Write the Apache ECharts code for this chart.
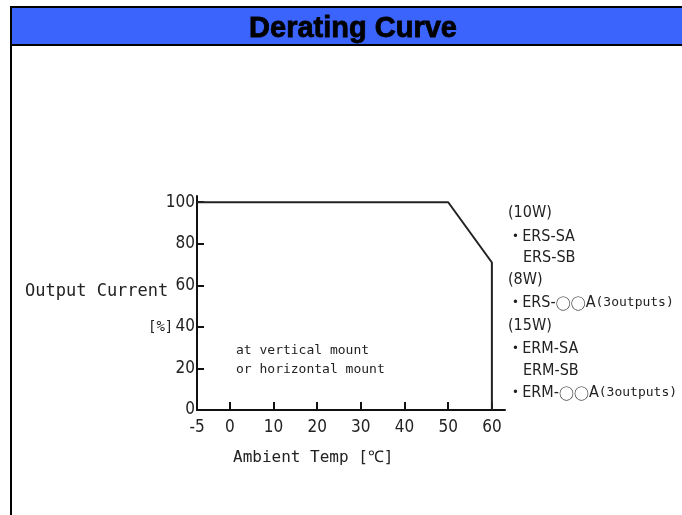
<!DOCTYPE html>
<html>
<head>
<meta charset="utf-8">
<script src="https://cdn.jsdelivr.net/npm/echarts@6/dist/echarts.min.js"></script>
<style>
html,body{margin:0;padding:0;background:#fff;}
#chart{width:682px;height:515px;}
</style>
</head>
<body>
<div id="chart"></div>
<script>
// ---- data ----
var titleText = 'Derating Curve';
var curveTemps = [-7.5, 50, 60, 60];      // ambient temperature (axis origin, knee, end, end)
var curveCurrent = [100, 100, 71, 0];      // output current [%]
var xTickValues = [0, 10, 20, 30, 40, 50, 60];
var xLabelValues = [-7.5, 0, 10, 20, 30, 40, 50, 60];
var xLabelTexts = ['-5', '0', '10', '20', '30', '40', '50', '60'];
var yTickValues = [20, 40, 60, 80, 100];
var yLabelValues = [0, 20, 40, 60, 80, 100];
var yAxisName = ['Output Current', '[%]'];
var xAxisName = 'Ambient Temp [℃]';
var noteLines = ['at vertical mount', 'or horizontal mount'];
var modelLines = [
  {t: '(10W)'},
  {b: true, t: 'ERS-SA'},
  {t: 'ERS-SB'},
  {t: '(8W)'},
  {b: true, t: 'ERS-', c: '○○', e: 'A', m: '(3outputs)'},
  {t: '(15W)'},
  {b: true, t: 'ERM-SA'},
  {t: 'ERM-SB'},
  {b: true, t: 'ERM-', c: '○○', e: 'A', m: '(3outputs)'}
];

var chart = echarts.init(document.getElementById('chart'), null, {renderer: 'canvas'});

var sans = '"DejaVu Sans Condensed", "Liberation Sans", Arial, sans-serif';
var mono = '"DejaVu Sans Mono", monospace';

var graphics = [
  {type: 'rect', shape: {x: 10, y: 6, width: 680, height: 40}, style: {fill: '#000'}, z: 1},
  {type: 'rect', shape: {x: 12, y: 8, width: 680, height: 36}, style: {fill: '#3b64fd'}, z: 2},
  {type: 'rect', shape: {x: 10, y: 6, width: 2, height: 520}, style: {fill: '#000'}, z: 2},
  {type: 'text', x: 353, y: 14, z: 3,
   style: {text: titleText, font: 'bold 29px "Liberation Sans", Arial, sans-serif', fill: '#000',
           stroke: '#000', lineWidth: 0.8, textAlign: 'center'}},
  {type: 'text', x: 25, y: 283, style: {text: yAxisName[0], font: '17px ' + mono, fill: '#222'}},
  {type: 'text', x: 148, y: 320, style: {text: yAxisName[1], font: '14px ' + mono, fill: '#222'}},
  {type: 'text', x: 233, y: 450, style: {text: xAxisName, font: '16px ' + mono, fill: '#222'}},
  {type: 'text', x: 236, y: 344, style: {text: noteLines[0], font: '13px ' + mono, fill: '#222'}},
  {type: 'text', x: 236, y: 363, style: {text: noteLines[1], font: '13px ' + mono, fill: '#222'}}
];

var lineYs = [205, 229, 250, 272, 295, 318, 341, 363, 385];
modelLines.forEach(function (ln, i) {
  var txt = (ln.b ? '{d|•} ' : '') + '{s|' + ln.t + '}' +
    (ln.c ? '{c|' + ln.c + '}{s|' + ln.e + '}' : '') +
    (ln.m ? '{m|' + ln.m + '}' : '');
  var x = ln.t.indexOf('(') === 0 ? 508 : (ln.b ? 512 : 523);
  graphics.push({
    type: 'text', x: x, y: lineYs[i],
    style: {
      text: txt,
      rich: {
        d: {font: '13px ' + sans, fill: '#222'},
        s: {font: '16px ' + sans, fill: '#222'},
        c: {font: '15px "Noto Sans CJK JP", sans-serif', fill: '#222'},
        m: {font: '13px ' + mono, fill: '#222'}
      }
    }
  });
});

var option = {
  animation: false,
  backgroundColor: '#fff',
  grid: {left: 197, right: 177, top: 196, bottom: 105, containLabel: false},
  xAxis: {
    type: 'value', min: -7.5, max: 63,
    axisLine: {show: true, onZero: false, lineStyle: {color: '#111', width: 2}},
    axisTick: {show: true, inside: true, length: 8, customValues: xTickValues, lineStyle: {color: '#111', width: 2}},
    axisLabel: {
      customValues: xLabelValues, margin: 9,
      formatter: function (v) { var i = xLabelValues.indexOf(v); return i >= 0 ? xLabelTexts[i] : ''; },
      fontFamily: sans, fontSize: 17, color: '#222'
    },
    splitLine: {show: false}
  },
  yAxis: {
    type: 'value', min: 0, max: 103,
    axisLine: {show: true, onZero: false, lineStyle: {color: '#111', width: 2}},
    axisTick: {show: true, inside: true, length: 7, customValues: yTickValues, lineStyle: {color: '#111', width: 2}},
    axisLabel: {
      customValues: yLabelValues, margin: 2,
      fontFamily: sans, fontSize: 17, color: '#222'
    },
    splitLine: {show: false}
  },
  series: [{
    type: 'line',
    data: curveTemps.map(function (t, i) { return [t, curveCurrent[i]]; }),
    symbol: 'none',
    lineStyle: {color: '#222', width: 2}
  }],
  graphic: graphics
};
chart.setOption(option);
</script>
</body>
</html>
